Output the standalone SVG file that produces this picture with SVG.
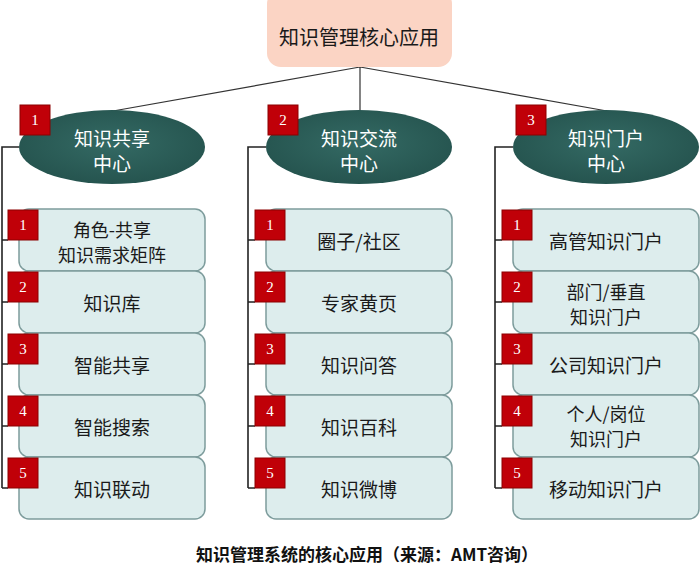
<svg xmlns="http://www.w3.org/2000/svg" width="700" height="575" viewBox="0 0 700 575">
<defs>
<radialGradient id="eg" cx="50%" cy="45%" r="60%">
<stop offset="0" stop-color="#346a64"/>
<stop offset="1" stop-color="#24524d"/>
</radialGradient>
<style>
.t{font-family:"Noto Sans CJK SC","Noto Sans",sans-serif;font-size:19px;fill:#1a1a1a;text-anchor:middle;dominant-baseline:central}
.t2{font-size:18px}
.et{font-family:"Noto Sans CJK SC","Noto Sans",sans-serif;font-size:19px;fill:#ffffff;text-anchor:middle;dominant-baseline:central}
.box{fill:#ddeded;stroke:#7d9c9c;stroke-width:1.5}
.ell{fill:url(#eg)}
.sq{fill:#c00008;stroke:#8c0000;stroke-width:1}
.n{font-family:"Liberation Serif",serif;font-size:15px;fill:#ffffff;text-anchor:middle;dominant-baseline:central}
.ln{stroke:#222;stroke-width:1.6;fill:none}
.tl{stroke:#333;stroke-width:1.2;fill:none}
</style>
</defs>
<rect width="700" height="575" fill="#ffffff"/>

<g id="connectors">
<path class="tl" d="M360 67 L113 111 M360 67 L360 111 M360 67 L607 111"/>
<path class="ln" d="M19 147 H2 V488 M2 240 H8 M2 302 H8 M2 364 H8 M2 426 H8 M2 488 H8"/>
<path class="ln" d="M266 147 H248 V488 M248 240 H255 M248 302 H255 M248 364 H255 M248 426 H255 M248 488 H255"/>
<path class="ln" d="M513 147 H495 V488 M495 240 H502 M495 302 H502 M495 364 H502 M495 426 H502 M495 488 H502"/>
</g>

<g id="root">
<rect x="267" y="-10" width="185" height="77" rx="14" fill="#fbd4c4"/>
<text class="t" x="359" y="36" style="font-size:20px">知识管理核心应用</text>
</g>

<g id="hub1">
<ellipse class="ell" cx="112" cy="147" rx="93" ry="37"/>
<rect class="sq" x="20" y="105" width="30" height="30"/>
<text class="n" x="35" y="120">1</text>
<text class="et" x="112" y="137">知识共享</text>
<text class="et" x="112" y="162">中心</text>
</g>
<g id="hub2">
<ellipse class="ell" cx="359" cy="147" rx="93" ry="37"/>
<rect class="sq" x="268" y="105" width="30" height="30"/>
<text class="n" x="283" y="120">2</text>
<text class="et" x="359" y="137">知识交流</text>
<text class="et" x="359" y="162">中心</text>
</g>
<g id="hub3">
<ellipse class="ell" cx="606" cy="147" rx="93" ry="37"/>
<rect class="sq" x="516" y="105" width="30" height="30"/>
<text class="n" x="531" y="120">3</text>
<text class="et" x="606" y="137">知识门户</text>
<text class="et" x="606" y="162">中心</text>
</g>

<g id="c1-1"><rect class="box" x="19" y="209" width="186" height="62" rx="10"/><rect class="sq" x="8" y="210" width="30" height="30"/><text class="n" x="23" y="225">1</text><text class="t t2" x="112" y="229">角色-共享</text><text class="t t2" x="112" y="254">知识需求矩阵</text></g>
<g id="c1-2"><rect class="box" x="19" y="271" width="186" height="62" rx="10"/><rect class="sq" x="8" y="272" width="30" height="30"/><text class="n" x="23" y="287">2</text><text class="t" x="112" y="302">知识库</text></g>
<g id="c1-3"><rect class="box" x="19" y="333" width="186" height="62" rx="10"/><rect class="sq" x="8" y="334" width="30" height="30"/><text class="n" x="23" y="349">3</text><text class="t" x="112" y="364">智能共享</text></g>
<g id="c1-4"><rect class="box" x="19" y="395" width="186" height="62" rx="10"/><rect class="sq" x="8" y="396" width="30" height="30"/><text class="n" x="23" y="411">4</text><text class="t" x="112" y="426">智能搜索</text></g>
<g id="c1-5"><rect class="box" x="19" y="457" width="186" height="62" rx="10"/><rect class="sq" x="8" y="458" width="30" height="30"/><text class="n" x="23" y="473">5</text><text class="t" x="112" y="488">知识联动</text></g>

<g id="c2-1"><rect class="box" x="266" y="209" width="186" height="62" rx="10"/><rect class="sq" x="255" y="210" width="30" height="30"/><text class="n" x="270" y="225">1</text><text class="t" x="359" y="240">圈子/社区</text></g>
<g id="c2-2"><rect class="box" x="266" y="271" width="186" height="62" rx="10"/><rect class="sq" x="255" y="272" width="30" height="30"/><text class="n" x="270" y="287">2</text><text class="t" x="359" y="302">专家黄页</text></g>
<g id="c2-3"><rect class="box" x="266" y="333" width="186" height="62" rx="10"/><rect class="sq" x="255" y="334" width="30" height="30"/><text class="n" x="270" y="349">3</text><text class="t" x="359" y="364">知识问答</text></g>
<g id="c2-4"><rect class="box" x="266" y="395" width="186" height="62" rx="10"/><rect class="sq" x="255" y="396" width="30" height="30"/><text class="n" x="270" y="411">4</text><text class="t" x="359" y="426">知识百科</text></g>
<g id="c2-5"><rect class="box" x="266" y="457" width="186" height="62" rx="10"/><rect class="sq" x="255" y="458" width="30" height="30"/><text class="n" x="270" y="473">5</text><text class="t" x="359" y="488">知识微博</text></g>

<g id="c3-1"><rect class="box" x="513" y="209" width="186" height="62" rx="10"/><rect class="sq" x="502" y="210" width="30" height="30"/><text class="n" x="517" y="225">1</text><text class="t" x="606" y="240">高管知识门户</text></g>
<g id="c3-2"><rect class="box" x="513" y="271" width="186" height="62" rx="10"/><rect class="sq" x="502" y="272" width="30" height="30"/><text class="n" x="517" y="287">2</text><text class="t t2" x="606" y="291">部门/垂直</text><text class="t t2" x="606" y="316">知识门户</text></g>
<g id="c3-3"><rect class="box" x="513" y="333" width="186" height="62" rx="10"/><rect class="sq" x="502" y="334" width="30" height="30"/><text class="n" x="517" y="349">3</text><text class="t" x="606" y="364">公司知识门户</text></g>
<g id="c3-4"><rect class="box" x="513" y="395" width="186" height="62" rx="10"/><rect class="sq" x="502" y="396" width="30" height="30"/><text class="n" x="517" y="411">4</text><text class="t t2" x="606" y="413">个人/岗位</text><text class="t t2" x="606" y="438">知识门户</text></g>
<g id="c3-5"><rect class="box" x="513" y="457" width="186" height="62" rx="10"/><rect class="sq" x="502" y="458" width="30" height="30"/><text class="n" x="517" y="473">5</text><text class="t" x="606" y="488">移动知识门户</text></g>

<text x="367" y="553" style="font-family:'Noto Sans CJK SC','Noto Sans',sans-serif;font-size:17px;font-weight:bold;fill:#111;text-anchor:middle;dominant-baseline:central">知识管理系统的核心应用（来源：AMT咨询）</text>
</svg>
